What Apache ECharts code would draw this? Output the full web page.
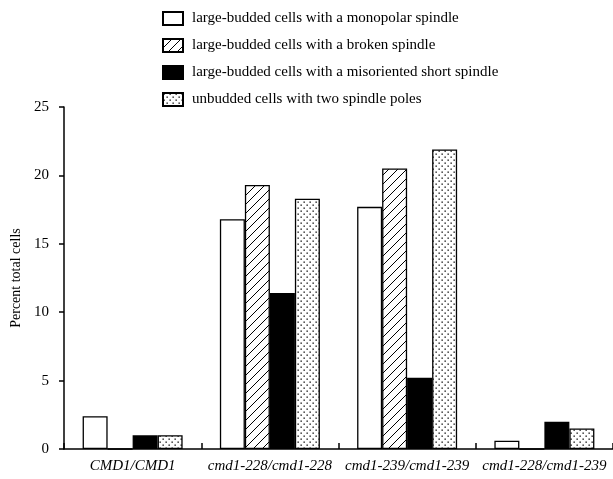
<!DOCTYPE html>
<html>
<head>
<meta charset="utf-8">
<script src="https://cdn.jsdelivr.net/npm/echarts@6/dist/echarts.min.js"></script>
<style>
html,body{margin:0;padding:0;background:#fff;}
#chart{width:613px;height:479px;}
</style>
</head>
<body>
<div id="chart"></div>
<script>
var categories = ['CMD1/CMD1', 'cmd1-228/cmd1-228', 'cmd1-239/cmd1-239', 'cmd1-228/cmd1-239'];
var seriesNames = [
  'large-budded cells with a monopolar spindle',
  'large-budded cells with a broken spindle',
  'large-budded cells with a misoriented short spindle',
  'unbudded cells with two spindle poles'
];
var monopolar = [2.4, 16.8, 17.7, 0.6];
var broken = [0, 19.3, 20.5, 0];
var misoriented = [1.0, 11.4, 5.2, 2.0];
var unbudded = [1.0, 18.3, 21.9, 1.5];
var yTicks = [0, 5, 10, 15, 20, 25];

var FONT = '"Liberation Serif", "Times New Roman", serif';

function hatchPattern() {
  var n = 9;
  var c = document.createElement('canvas');
  c.width = n; c.height = n;
  var g = c.getContext('2d');
  g.fillStyle = '#fff'; g.fillRect(0, 0, n, n);
  g.strokeStyle = '#000'; g.lineWidth = 1.0;
  g.beginPath();
  g.moveTo(0, n); g.lineTo(n, 0);
  g.moveTo(-1, 1); g.lineTo(1, -1);
  g.moveTo(n - 1, n + 1); g.lineTo(n + 1, n - 1);
  g.stroke();
  return c;
}
function dotPattern() {
  var c = document.createElement('canvas');
  c.width = 6; c.height = 6;
  var g = c.getContext('2d');
  g.fillStyle = '#fff'; g.fillRect(0, 0, 6, 6);
  g.fillStyle = '#000';
  g.fillRect(0.5, 0.5, 1.3, 1.3);
  g.fillRect(3.5, 3.5, 1.3, 1.3);
  return c;
}

var fills = [
  '#ffffff',
  { image: hatchPattern(), repeat: 'repeat' },
  '#000000',
  { image: dotPattern(), repeat: 'repeat' }
];
var datasets = [monopolar, broken, misoriented, unbudded];

var series = datasets.map(function (d, i) {
  return {
    name: seriesNames[i],
    type: 'bar',
    data: d,
    barWidth: 25,
    barGap: '0%',
    itemStyle: { color: fills[i], borderColor: '#000', borderWidth: 1.3 },
    emphasis: { disabled: true }
  };
});

var chart = echarts.init(document.getElementById('chart'), null, { renderer: 'canvas' });
chart.setOption({
  animation: false,
  backgroundColor: '#fff',
  textStyle: { fontFamily: FONT, color: '#000' },
  legend: {
    orient: 'vertical',
    left: 157,
    top: 6,
    icon: 'rect',
    itemWidth: 20,
    itemHeight: 13,
    itemGap: 12,
    textStyle: { fontFamily: FONT, fontSize: 15, color: '#000', padding: [0, 0, 0, 4] },
    data: seriesNames,
    selectedMode: false
  },
  grid: { left: 64, right: 0, top: 107, bottom: 30, containLabel: false },
  xAxis: {
    type: 'category',
    data: categories,
    axisLine: { lineStyle: { color: '#000', width: 1.5 } },
    axisTick: { show: true, inside: true, length: 6, lineStyle: { color: '#000', width: 1.5 } },
    axisLabel: { interval: 0, fontFamily: FONT, fontSize: 15, fontStyle: 'italic', color: '#000', margin: 10 }
  },
  yAxis: {
    type: 'value',
    min: yTicks[0],
    max: yTicks[yTicks.length - 1],
    interval: yTicks[1] - yTicks[0],
    name: 'Percent total cells',
    nameLocation: 'middle',
    nameGap: 38,
    nameTextStyle: { fontFamily: FONT, fontSize: 14, color: '#000' },
    splitLine: { show: false },
    axisLine: { show: true, lineStyle: { color: '#000', width: 1.5 } },
    axisTick: { show: true, length: 5, lineStyle: { color: '#000', width: 1.5 } },
    axisLabel: { fontFamily: FONT, fontSize: 15, color: '#000', margin: 15 }
  },
  series: series
});
</script>
</body>
</html>
